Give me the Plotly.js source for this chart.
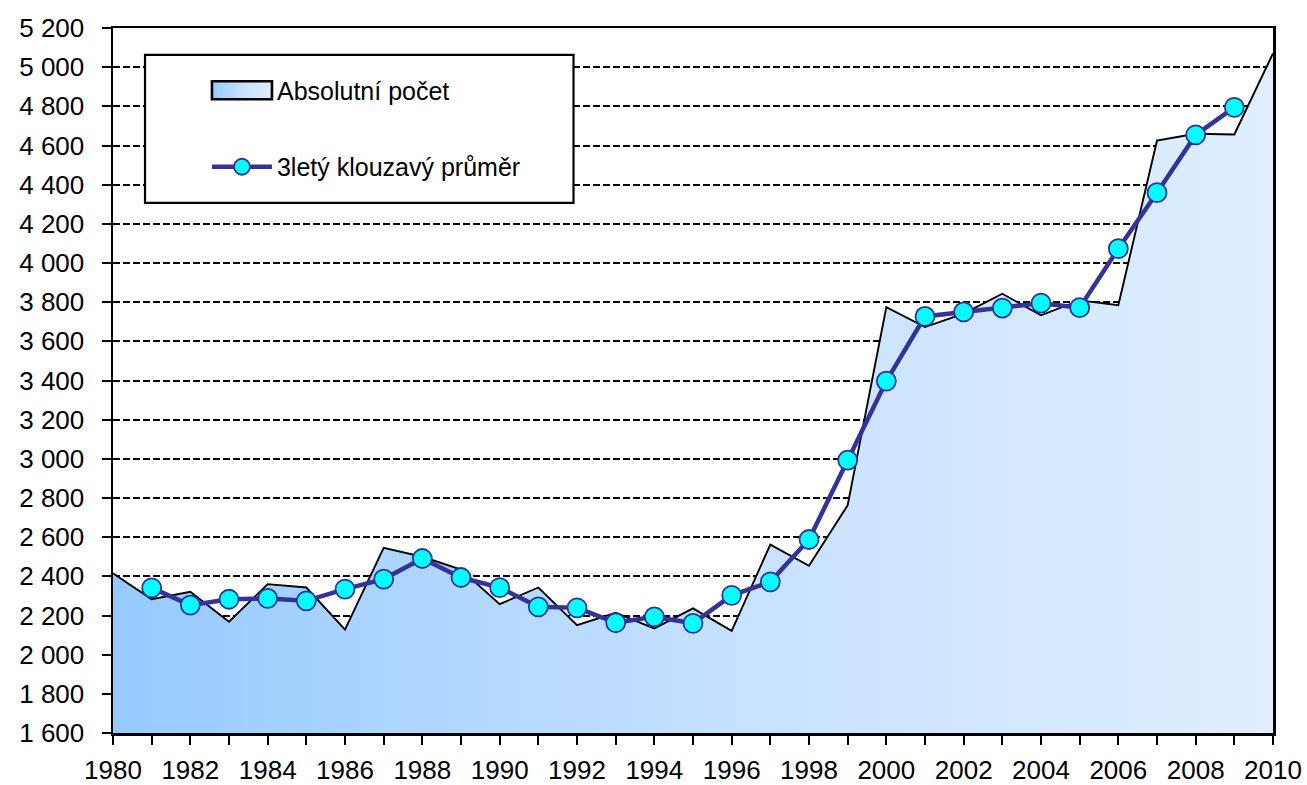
<!DOCTYPE html>
<html>
<head>
<meta charset="utf-8">
<script src="https://cdn.plot.ly/plotly-3.0.1.min.js"></script>
<style>
html,body{margin:0;padding:0;background:#fff;}
#chart{width:1307px;height:785px;}
</style>
</head>
<body>
<div id="chart"></div>
<script>
// Data
var years = [1980,1981,1982,1983,1984,1985,1986,1987,1988,1989,1990,1991,1992,1993,1994,1995,1996,1997,1998,1999,2000,2001,2002,2003,2004,2005,2006,2007,2008,2009,2010];
var absolutniPocet = [2415,2283,2321,2168,2360,2343,2128,2545,2500,2435,2258,2343,2151,2214,2134,2236,2122,2562,2454,2763,3775,3673,3742,3843,3733,3809,3784,4625,4660,4656,5070];
var maYears = [1981,1982,1983,1984,1985,1986,1987,1988,1989,1990,1991,1992,1993,1994,1995,1996,1997,1998,1999,2000,2001,2002,2003,2004,2005,2006,2007,2008,2009];
var klouzavyPrumer = [2341,2253,2283,2287,2275,2335,2386,2491,2394,2342,2244,2239,2163,2193,2160,2303,2372,2588,2993,3397,3727,3750,3770,3795,3772,4073,4359,4654,4795];
var seriesNames = ["Absolutní počet", "3letý klouzavý průměr"];

var FONT = "'Liberation Sans Narrow', 'Arial Narrow', 'Liberation Sans', Arial, sans-serif";

var traces = [
  {
    type: 'scatter',
    mode: 'lines',
    x: years,
    y: absolutniPocet,
    name: seriesNames[0],
    legendgroup: 'a',
    fill: 'tozeroy',
    fillgradient: {
      type: 'horizontal',
      colorscale: [[0, 'rgb(150,202,255)'], [0.5, 'rgb(196,224,255)'], [1, 'rgb(224,238,255)']]
    },
    line: {color: '#000000', width: 1.9},
    hoverinfo: 'x+y'
  },
  {
    type: 'scatter',
    mode: 'lines+markers',
    x: maYears,
    y: klouzavyPrumer,
    name: seriesNames[1],
    legendgroup: 'b',
    line: {color: '#333399', width: 4.5},
    marker: {color: '#00FFFF', size: 19, line: {color: '#333399', width: 1.8}},
    hoverinfo: 'x+y'
  }
];

var layout = {
  width: 1307,
  height: 785,
  margin: {l: 113, r: 34, t: 28, b: 52, pad: 0},
  paper_bgcolor: '#ffffff',
  plot_bgcolor: '#ffffff',
  separators: ', ',
  font: {family: FONT, size: 26, color: '#000000'},
  showlegend: true,
  legend: {
    x: 0.081, y: 0.944, xanchor: 'left', yanchor: 'top',
    bgcolor: 'rgba(0,0,0,0)',
    borderwidth: 0,
    traceorder: 'grouped',
    tracegroupgap: 41,
    itemwidth: 60,
    font: {family: FONT, size: 25, color: '#000000'}
  },
  xaxis: {
    range: [1980, 2010],
    tickmode: 'linear',
    tick0: 1980,
    dtick: 2,
    ticks: 'outside',
    ticklen: 9,
    tickwidth: 2,
    tickcolor: '#000',
    minor: {dtick: 1, ticks: 'outside', ticklen: 9, tickwidth: 2, tickcolor: '#000', showgrid: false},
    showline: true,
    linecolor: '#000',
    linewidth: 2.5,
    mirror: true,
    showgrid: false,
    zeroline: false,
    tickfont: {family: FONT, size: 26, color: '#000'},
    ticklabelstandoff: 3,
    fixedrange: true
  },
  yaxis: {
    range: [1600, 5200],
    tickmode: 'linear',
    tick0: 1600,
    dtick: 200,
    separatethousands: true,
    ticks: 'outside',
    ticklen: 9,
    tickwidth: 2,
    tickcolor: '#000',
    showline: true,
    linecolor: '#000',
    linewidth: 2.5,
    mirror: true,
    showgrid: true,
    gridcolor: '#000',
    gridwidth: 2,
    griddash: '7px,3px',
    zeroline: false,
    tickfont: {family: FONT, size: 26, color: '#000'},
    ticklabelstandoff: 12,
    fixedrange: true
  },
  shapes: [
    {type: 'rect', xref: 'paper', yref: 'paper',
     x0: 0.0276, x1: 0.397, y0: 0.752, y1: 0.962,
     fillcolor: '#ffffff', line: {color: '#000', width: 2.2}, layer: 'above'}
  ]
};

function fixLegendSymbol(gd) {
  var items = gd.querySelectorAll('.legend .traces');
  if (!items.length) return;
  var t0 = items[0];
  var rectPath = 'M5,-9h60v18h-60z';
  var fillPath = t0.querySelector('.legendfill path');
  var linePath = t0.querySelector('.legendlines path');
  if (fillPath) fillPath.setAttribute('d', rectPath);
  if (linePath) {
    linePath.setAttribute('d', rectPath);
    linePath.style.fill = 'none';
    linePath.style.strokeWidth = '2.6px';
    linePath.style.stroke = '#000';
  }
}

Plotly.newPlot('chart', traces, layout, {displayModeBar: false, staticPlot: true}).then(function (gd) {
  fixLegendSymbol(gd);
  gd.on('plotly_afterplot', function () { fixLegendSymbol(gd); });
});
</script>
</body>
</html>
